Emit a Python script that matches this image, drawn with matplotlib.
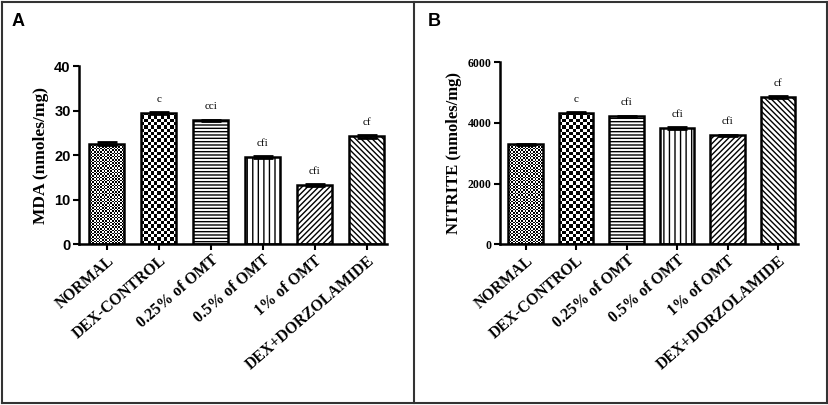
import numpy as np
import matplotlib.pyplot as plt
from matplotlib.lines import Line2D

groups = ["NORMAL", "DEX-CONTROL", "0.25% of OMT", "0.5% of OMT", "1% of OMT", "DEX+DORZOLAMIDE"]

mda = [22.6, 29.6, 27.9, 19.7, 13.3, 24.3]
mda_err = [0.3, 0.2, 0.1, 0.2, 0.3, 0.3]
mda_sig = ["", "c", "cci", "cfi", "cfi", "cf"]

nitrite = [3300, 4340, 4220, 3830, 3600, 4860]
nitrite_err = [20, 20, 20, 40, 20, 30]
nitrite_sig = ["", "c", "cfi", "cfi", "cfi", "cf"]

SERIF = "Liberation Serif"
SANS = "Liberation Sans"

# fill style per bar: ("check", cell_px) or ("hatch", pattern)
styles = [("check", 1.6), ("check", 3.3), ("hatch", "-----"),
          ("hatch", "|||"), ("hatch", "//////"), ("hatch", "\\\\\\\\\\\\")]

plt.rcParams["hatch.linewidth"] = 1.0


def checker(ax, bar, cell_px):
    x0, y0 = bar.get_x(), bar.get_y()
    w, h = bar.get_width(), bar.get_height()
    p0 = ax.transData.transform((x0, y0))
    p1 = ax.transData.transform((x0 + w, y0 + h))
    nc = max(1, int(round(abs(p1[0] - p0[0]) / cell_px)))
    nr = max(1, int(round(abs(p1[1] - p0[1]) / cell_px)))
    ii, jj = np.indices((nr, nc))
    img = ((ii + jj) % 2).astype(float)
    im = ax.imshow(img, cmap="gray", extent=(x0, x0 + w, y0, y0 + h), aspect="auto",
                   interpolation="nearest", zorder=1, origin="lower")
    im.set_clip_path(bar)


def panel(ax, vals, errs, sig, ylim, yticks, ylabel, ytick_font, ytick_size, ylabel_size, xlim):
    x = np.arange(len(groups))
    ax.set_xlim(*xlim)
    ax.set_ylim(*ylim)
    bars = ax.bar(x, vals, width=0.68, facecolor="none", edgecolor="black", linewidth=1.8, zorder=2)
    for b, (kind, v) in zip(bars, styles):
        if kind == "hatch":
            b.set_hatch(v)
            b.set_facecolor("white")
        else:
            checker(ax, b, v)
    ax.errorbar(x, vals, yerr=errs, fmt="none", ecolor="black", elinewidth=1.5,
                capsize=7, capthick=2, zorder=3)
    for xi, v, s in zip(x, vals, sig):
        if s:
            ax.annotate(s, (xi, v), xytext=(0, 6.5), textcoords="offset points", ha="center",
                        va="bottom", fontsize=8, family=SERIF)
    for sp in ["top", "right"]:
        ax.spines[sp].set_visible(False)
    for sp in ["left", "bottom"]:
        ax.spines[sp].set_linewidth(1.8)
    ax.set_yticks(yticks)
    ax.set_yticklabels([str(t) for t in yticks], family=ytick_font, fontweight="bold", fontsize=ytick_size)
    ax.set_xticks(x)
    ax.set_xticklabels(groups, rotation=41, ha="right", rotation_mode="anchor",
                       family=SERIF, fontweight="bold", fontsize=11.3)
    ax.tick_params(axis="both", width=1.5, length=4, pad=2)
    ax.set_ylabel(ylabel, family=SERIF, fontweight="bold", fontsize=ylabel_size, labelpad=4)


fig = plt.figure(figsize=(8.29, 4.05), dpi=100)
ax1 = fig.add_axes([0.0953, 0.397, 0.372, 0.439])
ax2 = fig.add_axes([0.603, 0.397, 0.360, 0.449])

panel(ax1, mda, mda_err, mda_sig, (0, 40), [0, 10, 20, 30, 40], "MDA (nmoles/mg)",
      SANS, 10.5, 12.5, (-0.53, 5.4))
panel(ax2, nitrite, nitrite_err, nitrite_sig, (0, 6000), [0, 2000, 4000, 6000], "NITRITE (nmoles/mg)",
      SERIF, 8.5, 12, (-0.51, 5.4))

fig.text(12 / 829, 1 - 13 / 405, "A", family=SANS, fontweight="bold", fontsize=13, va="top")
fig.text(428 / 829, 1 - 13 / 405, "B", family=SANS, fontweight="bold", fontsize=13, va="top")

# panel frames
fc = "#333333"
for xs, ys in [([0.002, 0.998], [0.996, 0.996]), ([0.002, 0.998], [0.004, 0.004]),
               ([0.002, 0.002], [0.004, 0.996]), ([0.998, 0.998], [0.004, 0.996]),
               ([414 / 829, 414 / 829], [0.004, 0.996])]:
    fig.add_artist(Line2D(xs, ys, color=fc, linewidth=1.5))

fig.savefig("out.png", dpi=100)
